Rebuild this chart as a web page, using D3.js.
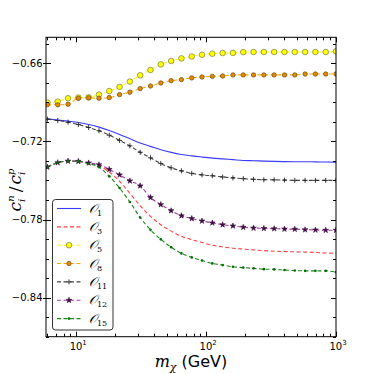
<!DOCTYPE html>
<html><head><meta charset="utf-8">
<script src="https://cdn.jsdelivr.net/npm/d3@7"></script>
<style>body{margin:0;background:#fff}svg{display:block}</style>
</head><body>
<script>
// ---- data ----
const mass = [6.000, 7.203, 8.648, 10.38, 12.46, 14.96, 17.96, 21.56, 25.88, 31.07, 37.30, 44.78, 53.76, 64.54, 77.48, 93.01, 111.6, 134.0, 160.9, 193.2, 231.9, 278.4, 334.2, 401.2, 481.6, 578.2, 694.1, 833.3, 1000];
const o1 = [-0.7027,-0.7035,-0.7044,-0.7054,-0.7070,-0.7090,-0.7116,-0.7146,-0.7179,-0.7212,-0.7238,-0.7264,-0.7284,-0.7300,-0.7311,-0.7320,-0.7328,-0.7334,-0.7340,-0.7346,-0.7348,-0.7351,-0.7353,-0.7355,-0.7356,-0.7356,-0.7357,-0.7358,-0.7359];
const o3 = [-0.7397,-0.7363,-0.7351,-0.7353,-0.7368,-0.7388,-0.7435,-0.7506,-0.7598,-0.7694,-0.7775,-0.7840,-0.7889,-0.7928,-0.7954,-0.7977,-0.7997,-0.8010,-0.8020,-0.8027,-0.8033,-0.8039,-0.8043,-0.8046,-0.8048,-0.8050,-0.8053,-0.8057,-0.8060];
const o5 = [-0.6901,-0.6894,-0.6868,-0.6863,-0.6861,-0.6840,-0.6813,-0.6781,-0.6740,-0.6692,-0.6651,-0.6608,-0.6582,-0.6562,-0.6547,-0.6534,-0.6526,-0.6521,-0.6520,-0.6514,-0.6513,-0.6513,-0.6513,-0.6513,-0.6513,-0.6513,-0.6513,-0.6513,-0.6508];
const o8 = [-0.6917,-0.6919,-0.6914,-0.6868,-0.6865,-0.6868,-0.6863,-0.6840,-0.6822,-0.6794,-0.6774,-0.6751,-0.6733,-0.6725,-0.6712,-0.6705,-0.6700,-0.6697,-0.6689,-0.6689,-0.6689,-0.6689,-0.6689,-0.6689,-0.6689,-0.6682,-0.6682,-0.6682,-0.6682];
const o11 = [-0.7029,-0.7039,-0.7052,-0.7070,-0.7093,-0.7118,-0.7152,-0.7192,-0.7234,-0.7283,-0.7326,-0.7369,-0.7403,-0.7426,-0.7445,-0.7457,-0.7464,-0.7473,-0.7480,-0.7486,-0.7491,-0.7494,-0.7495,-0.7497,-0.7499,-0.7499,-0.7499,-0.7499,-0.7499];
const o12 = [-0.7397,-0.7363,-0.7351,-0.7353,-0.7365,-0.7379,-0.7415,-0.7457,-0.7503,-0.7541,-0.7631,-0.7685,-0.7732,-0.7771,-0.7792,-0.7811,-0.7826,-0.7840,-0.7849,-0.7859,-0.7865,-0.7868,-0.7870,-0.7873,-0.7874,-0.7878,-0.7880,-0.7882,-0.7882];
const o15 = [-0.7397,-0.7363,-0.7351,-0.7353,-0.7371,-0.7397,-0.7468,-0.7558,-0.7665,-0.7784,-0.7879,-0.7952,-0.8012,-0.8060,-0.8091,-0.8115,-0.8137,-0.8150,-0.8163,-0.8169,-0.8175,-0.8181,-0.8183,-0.8188,-0.8192,-0.8194,-0.8194,-0.8194,-0.8204];
const seriesNames = ["1","3","5","8","11","12","15"];
const yTickValues = [-0.66, -0.72, -0.78, -0.84];
const xTickExps = [1, 2, 3];

// ---- styles ----
const styles = [
  {d:o1,  color:"#3a3aff", dash:null,  marker:null},
  {d:o3,  color:"#ff4040", dash:"4,2.5", marker:null},
  {d:o5,  color:"#ffff00", dash:"4,2.5", marker:"bigcircle"},
  {d:o8,  color:"#ffa500", dash:"4,2.5", marker:"circle"},
  {d:o11, color:"#444444", dash:"4,2.5", marker:"plus"},
  {d:o12, color:"#a53ca5", dash:"4,2.5", marker:"star"},
  {d:o15, color:"#1a8a1a", dash:"4,2.5", marker:"dot"}
];

const W=374,H=374;
const L=46,R=336,T=37.3,B=336.7;
const svg=d3.select("body").append("svg").attr("width",W).attr("height",H);
const x=d3.scaleLog().domain([5.85,1000]).range([L,R]);
const y=d3.scaleLinear().domain([-0.87,-0.64]).range([B,T]);

const defs=svg.append("defs");
defs.append("clipPath").attr("id","clip").append("rect").attr("x",L).attr("y",T).attr("width",R-L).attr("height",B-T);

function drawMarker(g,type,cx,cy,color){
  if(type==="bigcircle"){
    g.append("circle").attr("cx",cx).attr("cy",cy).attr("r",2.8).attr("fill","#ffff00").attr("stroke","#7a7a50").attr("stroke-width",0.7);
  }else if(type==="circle"){
    g.append("circle").attr("cx",cx).attr("cy",cy).attr("r",2.2).attr("fill","#e68a00").attr("stroke","#6b4a10").attr("stroke-width",0.7);
  }else if(type==="plus"){
    g.append("path").attr("d",`M${cx-2.5},${cy}H${cx+2.5}M${cx},${cy-2.5}V${cy+2.5}`).attr("stroke","#222").attr("stroke-width",0.9);
  }else if(type==="star"){
    const sym=d3.symbol().type(d3.symbolStar).size(10);
    g.append("path").attr("d",sym()).attr("transform",`translate(${cx},${cy})`).attr("fill","#3a0d3f").attr("stroke","#3a0d3f").attr("stroke-width",0.6);
  }else if(type==="dot"){
    g.append("circle").attr("cx",cx).attr("cy",cy).attr("r",1.3).attr("fill","#0a6a0a");
  }
}

const plot=svg.append("g").attr("clip-path","url(#clip)");
const line=d3.line().x((d,i)=>x(mass[i])).y(d=>y(d)).curve(d3.curveMonotoneX);
styles.forEach(s=>{
  plot.append("path").datum(s.d).attr("d",line).attr("fill","none").attr("stroke",s.color).attr("stroke-width",1.1)
    .attr("stroke-dasharray",s.dash);
});
styles.forEach(s=>{
  if(!s.marker) return;
  s.d.forEach((v,i)=>drawMarker(plot,s.marker,x(mass[i]),y(v),s.color));
});

// frame
svg.append("rect").attr("x",L).attr("y",T).attr("width",R-L).attr("height",B-T).attr("fill","none").attr("stroke","#000").attr("stroke-width",1);

// ticks
const tg=svg.append("g").attr("stroke","#000").attr("stroke-width",1);
const yMinor=d3.range(-0.87,-0.64,0.015).map(v=>+v.toFixed(3)).filter(v=>v>-0.87-1e-9&&v<-0.64);
yMinor.forEach(v=>{
  const yy=Math.round(y(v))+0.5;
  tg.append("line").attr("x1",L).attr("x2",L+3).attr("y1",yy).attr("y2",yy);
  tg.append("line").attr("x1",R).attr("x2",R-3).attr("y1",yy).attr("y2",yy);
});
yTickValues.forEach(v=>{
  const yy=Math.round(y(v))+0.5;
  tg.append("line").attr("x1",L-3).attr("x2",L+5).attr("y1",yy).attr("y2",yy);
  tg.append("line").attr("x1",R).attr("x2",R-5).attr("y1",yy).attr("y2",yy);
});
const xMinor=[];
[1,10,100].forEach(dec=>{for(let k=2;k<=9;k++){const v=k*dec; if(v>=5.85&&v<=1000) xMinor.push(v);}});
xMinor.forEach(v=>{
  const xx=Math.round(x(v))+0.5;
  tg.append("line").attr("x1",xx).attr("x2",xx).attr("y1",B).attr("y2",B-3);
  tg.append("line").attr("x1",xx).attr("x2",xx).attr("y1",T).attr("y2",T+3);
});
xTickExps.forEach(e=>{
  const xx=Math.round(x(Math.pow(10,e)))+0.5;
  tg.append("line").attr("x1",xx).attr("x2",xx).attr("y1",B).attr("y2",B-5);
  tg.append("line").attr("x1",xx).attr("x2",xx).attr("y1",T).attr("y2",T+5);
});

// tick labels
const font="DejaVu Sans, sans-serif";
yTickValues.forEach(v=>{
  svg.append("text").attr("x",L-3.5).attr("y",y(v)+3.6).attr("text-anchor","end").attr("font-family",font).attr("font-size",10)
    .text("\u2212"+Math.abs(v).toFixed(2));
});
xTickExps.forEach(e=>{
  const t=svg.append("text").attr("x",x(Math.pow(10,e))+2).attr("y",350).attr("text-anchor","middle").attr("font-family",font).attr("font-size",10);
  t.append("tspan").text("10");
  t.append("tspan").attr("dy",-5).attr("font-size",7).text(e);
});

// axis labels
const serif="DejaVu Serif, serif";
const xl=svg.append("text").attr("x",191).attr("y",367).attr("text-anchor","middle").attr("font-size",16);
xl.append("tspan").attr("font-family",serif).attr("font-style","italic").text("m");
xl.append("tspan").attr("font-family",serif).attr("font-style","italic").attr("font-size",11).attr("dy",4).text("\u03c7");
xl.append("tspan").attr("font-family",font).attr("dy",-4).text(" (GeV)");

const yl=svg.append("text").attr("transform","translate(21,190) rotate(-90)").attr("text-anchor","middle").attr("font-size",17).attr("font-family",serif);
yl.append("tspan").attr("font-style","italic").text("c");
yl.append("tspan").attr("font-style","italic").attr("font-size",10).attr("dy",4).text("i");
yl.append("tspan").attr("font-style","italic").attr("font-size",10).attr("dx",-3).attr("dy",-11).text("n");
yl.append("tspan").attr("dy",7).attr("dx",3).text("/");
yl.append("tspan").attr("font-style","italic").attr("dx",2).text("c");
yl.append("tspan").attr("font-style","italic").attr("font-size",10).attr("dy",4).text("i");
yl.append("tspan").attr("font-style","italic").attr("font-size",10).attr("dx",-3).attr("dy",-11).text("p");

// legend
const lg=svg.append("g");
lg.append("rect").attr("x",52.5).attr("y",199.5).attr("width",60.5).attr("height",130.5).attr("rx",3).attr("fill","#fff").attr("stroke","#333").attr("stroke-width",1);
styles.forEach((s,i)=>{
  const yy=208.5+i*18.35;
  lg.append("line").attr("x1",57).attr("x2",81).attr("y1",yy).attr("y2",yy).attr("stroke",s.color).attr("stroke-width",1.1).attr("stroke-dasharray",s.dash);
  if(s.marker) drawMarker(lg,s.marker,69,yy,s.color);
  const t=lg.append("text").attr("x",89).attr("y",yy+4).attr("font-size",13).attr("font-family",serif);
  t.append("tspan").attr("font-style","italic").text("\ud835\udcaa");
  t.append("tspan").attr("font-size",8).attr("dy",3).text(seriesNames[i]);
});
</script>
</body></html>
